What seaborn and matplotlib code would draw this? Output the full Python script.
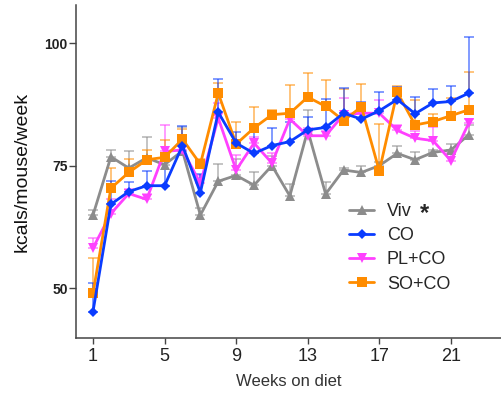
import numpy as np
import pandas as pd
import matplotlib
matplotlib.use("Agg")
import matplotlib.pyplot as plt
import seaborn as sns

weeks = list(range(1, 23))

viv = [64.9, 76.8, 74.5, 76.6, 75.2, 78.0, 64.9, 71.8, 73.0, 71.0, 75.0, 68.8,
       82.2, 69.2, 74.1, 73.6, 75.0, 77.5, 76.2, 77.7, 78.2, 81.3]
viv_err = [1.0, 1.4, 3.5, 4.2, 1.5, 4.9, 1.5, 3.6, 3.3, 2.7, 2.0, 2.5,
           4.2, 2.5, 0.5, 1.4, 0.7, 1.6, 1.6, 0.5, 1.2, 2.0]

co = [45.2, 67.1, 69.7, 70.9, 70.9, 79.1, 69.5, 85.9, 79.6, 77.5, 79.1, 79.9,
      82.3, 82.8, 85.7, 84.5, 86.2, 88.5, 85.6, 87.8, 88.1, 89.8]
co_err = [5.8, 4.8, 2.0, 3.1, 6.5, 3.9, 3.8, 6.7, 2.3, 4.4, 3.6, 4.0,
          2.7, 5.9, 5.1, 3.5, 3.8, 2.6, 3.5, 2.9, 3.1, 11.4]

plco = [58.2, 65.2, 69.3, 68.1, 77.9, 78.2, 71.4, 84.7, 74.1, 79.6, 75.5, 84.5,
        81.1, 81.1, 85.4, 85.7, 85.7, 82.2, 80.6, 80.1, 76.0, 83.7]
plco_err = [2.0, 2.9, 1.0, 1.2, 5.3, 2.0, 1.6, 3.0, 3.1, 1.2, 2.0, 1.6,
            1.5, 1.0, 3.4, 1.0, 2.7, 1.0, 1.5, 2.7, 1.5, 0.9]

soco = [48.9, 70.4, 73.6, 76.2, 76.7, 80.4, 75.3, 89.8, 79.4, 82.7, 85.4, 85.7,
        89.0, 87.1, 84.2, 87.0, 73.9, 90.0, 83.3, 84.0, 85.2, 86.4]
soco_err = [7.2, 4.1, 2.7, 2.0, 3.5, 2.0, 1.0, 2.0, 4.6, 4.3, 1.0, 5.8,
            4.9, 5.3, 6.4, 4.6, 9.6, 1.2, 5.1, 1.5, 3.6, 7.7]

series_names = ["Viv", "CO", "PL+CO", "SO+CO"]
x_ticks = [1, 5, 9, 13, 17, 21]
y_ticks = [50, 75, 100]

sns.set_style("ticks")
plt.rcParams["font.family"] = ["Liberation Sans", "DejaVu Sans"]

fig = plt.figure(figsize=(5.01, 4.00), dpi=100)
ax = fig.add_axes([76 / 501, 1 - 338 / 400, 1 - 76 / 501, (338 - 5) / 400])

styles = {
    "Viv":   dict(color="#8c8c8c", marker="^", ms=7.0, vals=viv, err=viv_err),
    "PL+CO": dict(color="#ff40ff", marker="v", ms=7.0, vals=plco, err=plco_err),
    "SO+CO": dict(color="#ff8c00", marker="s", ms=6.5, vals=soco, err=soco_err),
    "CO":    dict(color="#0a3cff", marker="D", ms=5.0, vals=co, err=co_err),
}

for name in ["Viv", "PL+CO", "SO+CO", "CO"]:
    s = styles[name]
    df = pd.DataFrame({"week": weeks, "val": s["vals"]})
    ax.errorbar(weeks, s["vals"], yerr=[np.zeros(len(weeks)), s["err"]],
                fmt="none", ecolor=s["color"], elinewidth=1.1, capsize=3.4,
                capthick=1.1, alpha=0.65, zorder=1)
    sns.lineplot(data=df, x="week", y="val", ax=ax, color=s["color"],
                 marker=s["marker"], markersize=s["ms"], markeredgewidth=0,
                 linewidth=2.0, label=name, zorder=2)

ax.set_xlim(0.05, 23.8)
ax.set_ylim(39.8, 107.8)
ax.set_xticks(x_ticks)
ax.set_xticklabels([str(t) for t in x_ticks], fontsize=13, color="#222222")
ax.set_yticks(y_ticks)
ax.set_yticklabels([str(t) for t in y_ticks], fontsize=10, fontweight="bold",
                   color="#222222")
ax.set_xlabel("Weeks on diet", fontsize=12, color="#333333", labelpad=6)
ax.set_ylabel("kcals/mouse/week", fontsize=14, color="#111111", labelpad=10)

for sp in ["top", "right"]:
    ax.spines[sp].set_visible(False)
for sp in ["left", "bottom"]:
    ax.spines[sp].set_color("#444444")
    ax.spines[sp].set_linewidth(1.1)
ax.tick_params(axis="x", length=4.5, width=1.0, color="#444444", pad=3)
ax.tick_params(axis="y", length=5, width=1.0, color="#444444", pad=1)

h, l = ax.get_legend_handles_labels()
order = [l.index(n) for n in series_names]
leg = ax.legend([h[i] for i in order], [l[i] for i in order],
                loc="upper left", bbox_to_anchor=(340 / 501, 1 - 194 / 400),
                bbox_transform=fig.transFigure, frameon=False, fontsize=13,
                handlelength=1.4, handletextpad=0.7, labelspacing=0.4,
                borderpad=0)
fig.text(424 / 501, 1 - 214 / 400, "*", fontsize=17, fontweight="bold",
         ha="center", va="center")

fig.savefig("out.png", dpi=100)
